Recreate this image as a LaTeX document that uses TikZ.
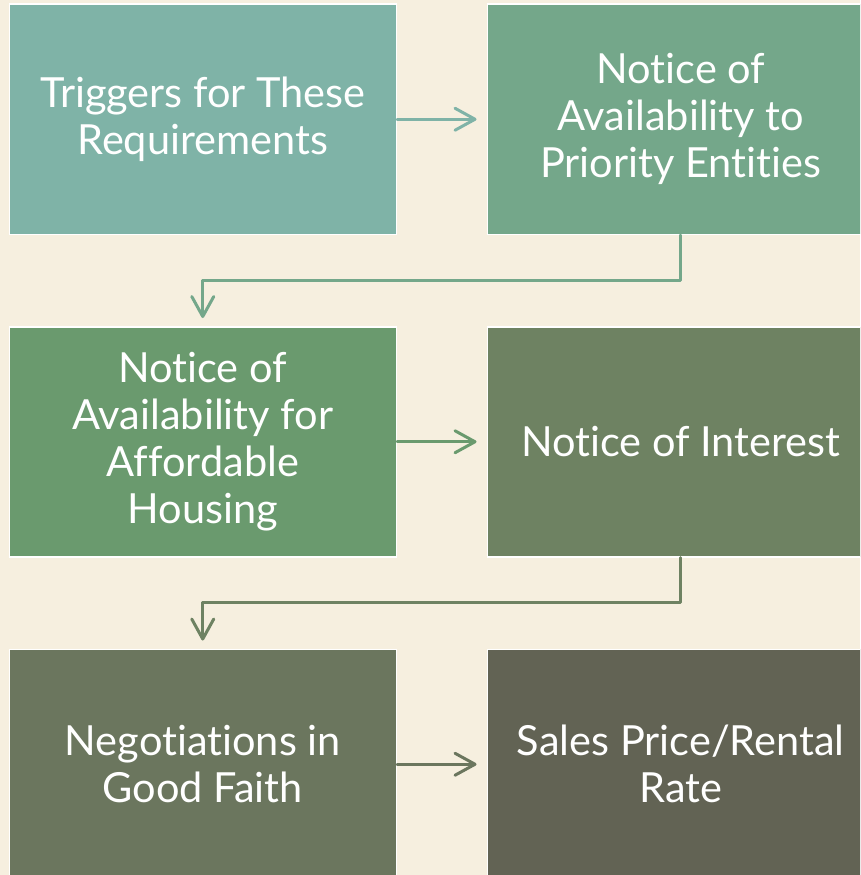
\documentclass[tikz,border=0pt]{standalone}
\usepackage{fontspec}
\setmainfont{Lato}[Ligatures={NoCommon}]
\usetikzlibrary{arrows.meta}
\definecolor{pagebg}{HTML}{F6EFDF}
\definecolor{stepA}{HTML}{7FB3A7}
\definecolor{stepB}{HTML}{74A78A}
\definecolor{stepC}{HTML}{6A9A6E}
\definecolor{stepD}{HTML}{6E8262}
\definecolor{stepE}{HTML}{6B765E}
\definecolor{stepF}{HTML}{626354}
\tikzset{
  stepbox/.style={draw=white, line width=1.5pt, rectangle, anchor=north west,
    minimum width=387pt, minimum height=230pt, inner sep=0pt,
    text=white, align=center, font=\fontsize{41.5}{47}\selectfont},
  flow/.style={line width=3pt, line cap=round, line join=round,
    -{Straight Barb[length=20pt, width=22pt, line cap=round, line join=round]}},
}
\begin{document}
\begin{tikzpicture}[x=1pt, y=-1pt]
  \useasboundingbox (0,0) rectangle (860,875);
  \fill[pagebg] (0,0) rectangle (860,875);
  \clip (0,0) rectangle (860,875);
  % process steps, two per row
  \node[stepbox, fill=stepA] (s1) at (8.5,3.5) {Triggers for These\\Requirements};
  \node[stepbox, fill=stepB] (s2) at (486.5,3.5) {Notice of\\Availability to\\Priority Entities};
  \node[stepbox, fill=stepC] (s3) at (8.5,326) {Notice of\\Availability for\\Affordable\\Housing};
  \node[stepbox, fill=stepD] (s4) at (486.5,326) {Notice of Interest};
  \node[stepbox, fill=stepE] (s5) at (8.5,648.5) {Negotiations in\\Good Faith};
  \node[stepbox, fill=stepF] (s6) at (486.5,648.5) {Sales Price/Rental\\Rate};
  % connectors
  \draw[flow, stepA, shorten >=10pt] (s1.east) -- (s2.west);
  \draw[flow, stepB, shorten >=8pt] (s2.south) -- ++(0,45) -| (s3.north);
  \draw[flow, stepC, shorten >=10pt] (s3.east) -- (s4.west);
  \draw[flow, stepD, shorten >=8pt] (s4.south) -- ++(0,45) -| (s5.north);
  \draw[flow, stepE, shorten >=10pt] (s5.east) -- (s6.west);
\end{tikzpicture}
\end{document}
